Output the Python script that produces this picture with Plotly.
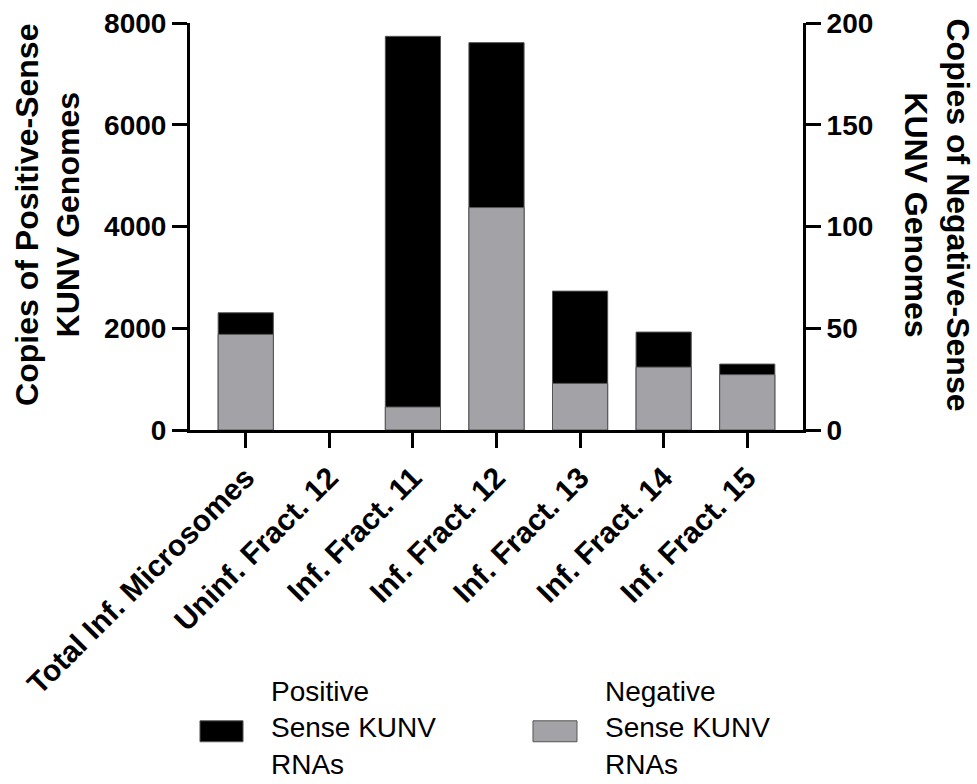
import plotly.graph_objects as go

# Sample groups along the x axis
categories = [
    "Total Inf. Microsomes",
    "Uninf. Fract. 12",
    "Inf. Fract. 11",
    "Inf. Fract. 12",
    "Inf. Fract. 13",
    "Inf. Fract. 14",
    "Inf. Fract. 15",
]
# Copies of positive-sense KUNV genomes (left axis)
positive_copies = [2304, 0, 7738, 7614, 2730, 1925, 1296]
# Copies of negative-sense KUNV genomes (right axis)
negative_copies = [47.0, 0, 11.3, 109.3, 22.9, 30.9, 27.2]

left_ticks = [0, 2000, 4000, 6000, 8000]
right_ticks = [0, 50, 100, 150, 200]

FONT = "Liberation Sans, Arial, sans-serif"
BLACK = "#000000"
GREY = "#A3A2A7"
EDGE = "#555555"


def outline_widths(values):
    # no outline for empty bars, so nothing is drawn on the baseline
    return [1 if v > 0 else 0 for v in values]


fig = go.Figure()
fig.add_trace(go.Bar(
    x=categories, y=positive_copies, name="Positive<br>Sense KUNV<br>RNAs",
    marker=dict(color=BLACK, line=dict(color=EDGE, width=outline_widths(positive_copies))),
    width=0.66, yaxis="y", showlegend=False,
))
fig.add_trace(go.Bar(
    x=categories, y=negative_copies, name="Negative<br>Sense KUNV<br>RNAs",
    marker=dict(color=GREY, line=dict(color=EDGE, width=outline_widths(negative_copies))),
    width=0.66, yaxis="y2", showlegend=False,
))

axis_common = dict(
    showline=True, linecolor="black", linewidth=3,
    ticks="outside", ticklen=15, tickwidth=3, tickcolor="black",
    showgrid=False, zeroline=False, automargin=False,
)

fig.update_layout(
    width=977, height=784,
    margin=dict(l=190, r=174, t=23, b=354),
    paper_bgcolor="white", plot_bgcolor="white",
    barmode="overlay",
    showlegend=False,
    xaxis=dict(
        **axis_common,
        tickfont=dict(family=FONT, size=30, color="black", weight="bold"),
        tickangle=-45, range=[-0.667, 6.667],
    ),
    yaxis=dict(
        **axis_common, range=[0, 8000], tickvals=left_ticks,
        tickfont=dict(family=FONT, size=28, color="black", weight="bold"),
    ),
    yaxis2=dict(
        **axis_common, range=[0, 200], tickvals=right_ticks,
        overlaying="y", side="right",
        tickfont=dict(family=FONT, size=28, color="black", weight="bold"),
    ),
)

# Axis titles
fig.add_annotation(
    text="Copies of Positive-Sense<br>KUNV Genomes",
    xref="paper", yref="paper", x=-0.232, y=0.528,
    xanchor="center", yanchor="middle", textangle=-90, showarrow=False,
    font=dict(family=FONT, size=32, color="black", weight="bold"),
)
fig.add_annotation(
    text="Copies of Negative-Sense<br>KUNV Genomes",
    xref="paper", yref="paper", x=1.218, y=0.528,
    xanchor="center", yanchor="middle", textangle=90, showarrow=False,
    font=dict(family=FONT, size=32, color="black", weight="bold"),
)

# Legend: swatches and labels below the plot
legend_items = [
    (fig.data[0].name, BLACK, 0.0163, 0.0865, 0.1289),
    (fig.data[1].name, GREY, 0.5595, 0.6313, 0.6737),
]
for label, color, sx0, sx1, tx in legend_items:
    fig.add_shape(
        type="rect", xref="paper", yref="paper",
        x0=sx0, x1=sx1, y0=-0.766, y1=-0.7145,
        fillcolor=color, line=dict(color=EDGE, width=1),
    )
    fig.add_annotation(
        text=label, xref="paper", yref="paper", x=tx, y=-0.732,
        xanchor="left", yanchor="middle", align="left", showarrow=False,
        font=dict(family=FONT, size=28, color="black"),
    )

fig.write_html("out.html")
